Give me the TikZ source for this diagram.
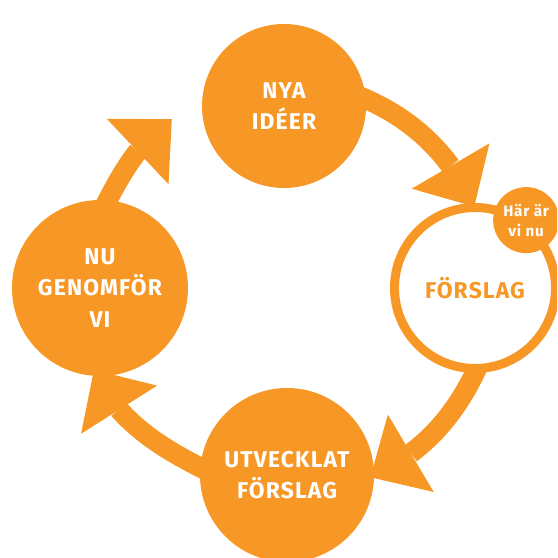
\documentclass[tikz,border=0pt]{standalone}
\usepackage{fontspec}
\setmainfont{Fira Sans}[LetterSpace=5]
\usetikzlibrary{arrows.meta}
\usetikzlibrary{bending}
\usetikzlibrary{backgrounds}
\definecolor{ochre}{RGB}{247,151,38}
\tikzstyle{every node}+=[inner sep=0pt]
\tikzstyle{phase} = [circle, fill=ochre, text=white, align=center, font=\bfseries\fontsize{19.5}{27}\selectfont, minimum size=5.1cm]
\tikzstyle{current} = [phase, fill=white, draw=ochre, line width=0.27cm, text=ochre, minimum size=4.83cm]
\tikzstyle{marker} = [circle, fill=ochre, text=white, align=center, font=\bfseries\fontsize{13}{17}\selectfont, minimum size=1.98cm]
\tikzstyle{flow} = [draw=ochre, line width=0.6cm, -{Triangle[length=1.41cm, width=2.7cm, line width=0pt]}, shorten <=-0.3cm, looseness=0.87]

\begin{document}
\begin{tikzpicture}[x=0.03cm, y=0.03cm]
  \useasboundingbox (-287,-268) rectangle (270,290);
  \clip (-287,-268) rectangle (270,290);
  % Place nodes
  \node [phase, minimum size=4.92cm] (ideas) at (-3,184) {NYA\\IDÉER};
  \node [current] (proposal) at (188,2) {FÖRSLAG};
  \node [phase, minimum size=5.22cm] (developed) at (0,-185) {UTVECKLAT\\FÖRSLAG};
  \node [phase, minimum size=5.28cm] (doing) at (-187,2) {NU\\GENOMFÖR\\VI};
  \node [marker] (here) at (proposal.53) {Här är\\vi nu};
  % Arrow tips
  \coordinate (t1) at (24:205);
  \coordinate (t2) at (-66:205);
  \coordinate (t3) at (202.5:209);
  \coordinate (t4) at (124:206);
  % Draw edges
  \begin{scope}[on background layer]
    \draw [flow] (ideas.5) to[out=-22, in=114] (t1);
    \draw [flow] (proposal.-90) to[out=-114, in=24] (t2);
    \draw [flow] (developed.175) to[out=154, in=292.5] (t3);
    \draw [flow] (doing.85) to[out=63, in=214] (t4);
  \end{scope}
\end{tikzpicture}
\end{document}
